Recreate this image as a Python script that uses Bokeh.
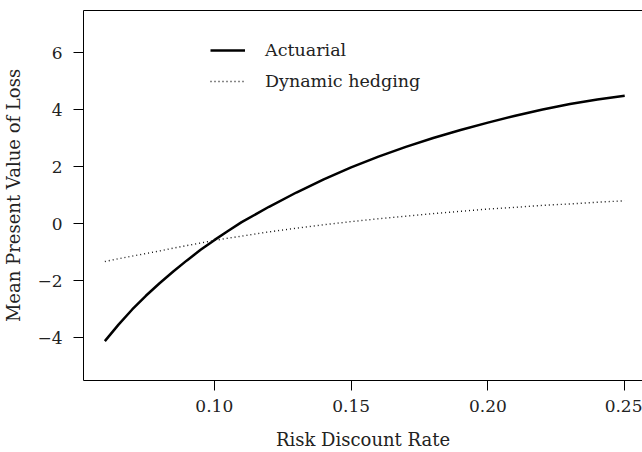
from bokeh.plotting import figure
from bokeh.models import Legend, LegendItem, LinearAxis, Range1d, FixedTicker
from bokeh.embed import file_html
from bokeh.resources import INLINE

# ---- data ----
rate = [0.06, 0.065, 0.07, 0.075, 0.08, 0.085, 0.09, 0.095, 0.10, 0.105, 0.11, 0.12, 0.13, 0.14, 0.15,
        0.16, 0.17, 0.18, 0.19, 0.20, 0.21, 0.22, 0.23, 0.24, 0.25]
actuarial = [-4.11, -3.53, -3.00, -2.52, -2.08, -1.67, -1.28, -0.91, -0.57, -0.25, 0.06, 0.60, 1.10, 1.56, 1.98,
             2.36, 2.70, 3.01, 3.29, 3.55, 3.79, 4.01, 4.20, 4.36, 4.49]
dynamic_hedging = [-1.32, -1.22, -1.13, -1.04, -0.95, -0.85, -0.76, -0.67, -0.58, -0.50, -0.43, -0.28, -0.15, -0.03, 0.08,
                   0.18, 0.27, 0.36, 0.44, 0.52, 0.58, 0.65, 0.70, 0.76, 0.81]
x_ticks = [0.10, 0.15, 0.20, 0.25]
x_tick_labels = ["0.10", "0.15", "0.20", "0.25"]
y_ticks = [-4, -2, 0, 2, 4, 6]
y_tick_labels = ["\u22124", "\u22122", "0", "2", "4", "6"]
series_names = ["Actuarial", "Dynamic hedging"]
x_title = "Risk Discount Rate"
y_title = "Mean Present Value of Loss"

FONT = "DejaVu Serif"
TICK_FS = "17px"
TITLE_FS = "18px"
LEG_FS = "17.5px"

p = figure(width=642, height=452, output_backend="svg", toolbar_location=None,
           x_range=Range1d(0.0522, 0.2565), y_range=Range1d(-5.49, 7.48),
           min_border_left=81, min_border_top=10, min_border_bottom=71, min_border_right=0,
           x_axis_label=x_title, y_axis_label=y_title)
p.outline_line_color = None
p.grid.visible = False
p.background_fill_color = "white"
p.border_fill_color = "white"

for ax in (p.xaxis[0], p.yaxis[0]):
    ax.major_tick_out = 10
    ax.major_tick_in = 0
    ax.minor_tick_out = 0
    ax.minor_tick_in = 0
    ax.axis_line_color = "black"
    ax.axis_line_width = 1
    ax.major_tick_line_color = "black"
    ax.major_tick_line_width = 1
    ax.major_label_text_font = FONT
    ax.major_label_text_font_size = TICK_FS
    ax.major_label_text_color = "#222222"
    ax.axis_label_text_font = FONT
    ax.axis_label_text_font_size = TITLE_FS
    ax.axis_label_text_font_style = "normal"
    ax.axis_label_text_color = "#222222"

p.xaxis[0].ticker = FixedTicker(ticks=x_ticks)
p.xaxis[0].major_label_overrides = dict(zip(x_ticks, x_tick_labels))
p.xaxis[0].major_label_standoff = 9
p.xaxis[0].axis_label_standoff = 14

p.yaxis[0].ticker = FixedTicker(ticks=y_ticks)
p.yaxis[0].major_label_overrides = dict(zip(y_ticks, y_tick_labels))
p.yaxis[0].major_label_orientation = "horizontal"
p.yaxis[0].major_label_standoff = 11
p.yaxis[0].axis_label_standoff = 10

top = LinearAxis(major_tick_out=0, major_tick_in=0, minor_tick_out=0, minor_tick_in=0,
                 major_label_standoff=0, axis_label_standoff=0,
                 major_label_text_font_size="0px", axis_line_color="black", axis_line_width=1,
                 ticker=FixedTicker(ticks=[]))
p.add_layout(top, "above")

r1 = p.line(rate, actuarial, line_color="black", line_width=2.5, line_join="round")
r2 = p.line(rate, dynamic_hedging, line_color="#111111", line_width=1.4, line_dash="1 3")

legend = Legend(items=[LegendItem(label=series_names[0], renderers=[r1]),
                       LegendItem(label=series_names[1], renderers=[r2])],
                location=(127, 285), padding=0, margin=0, spacing=3,
                glyph_width=35, glyph_height=28, label_height=28, label_standoff=20,
                border_line_color=None, background_fill_alpha=0,
                label_text_font=FONT, label_text_font_size=LEG_FS, label_text_color="#222222")
p.add_layout(legend)

open("out.html", "w").write(file_html(p, INLINE))
